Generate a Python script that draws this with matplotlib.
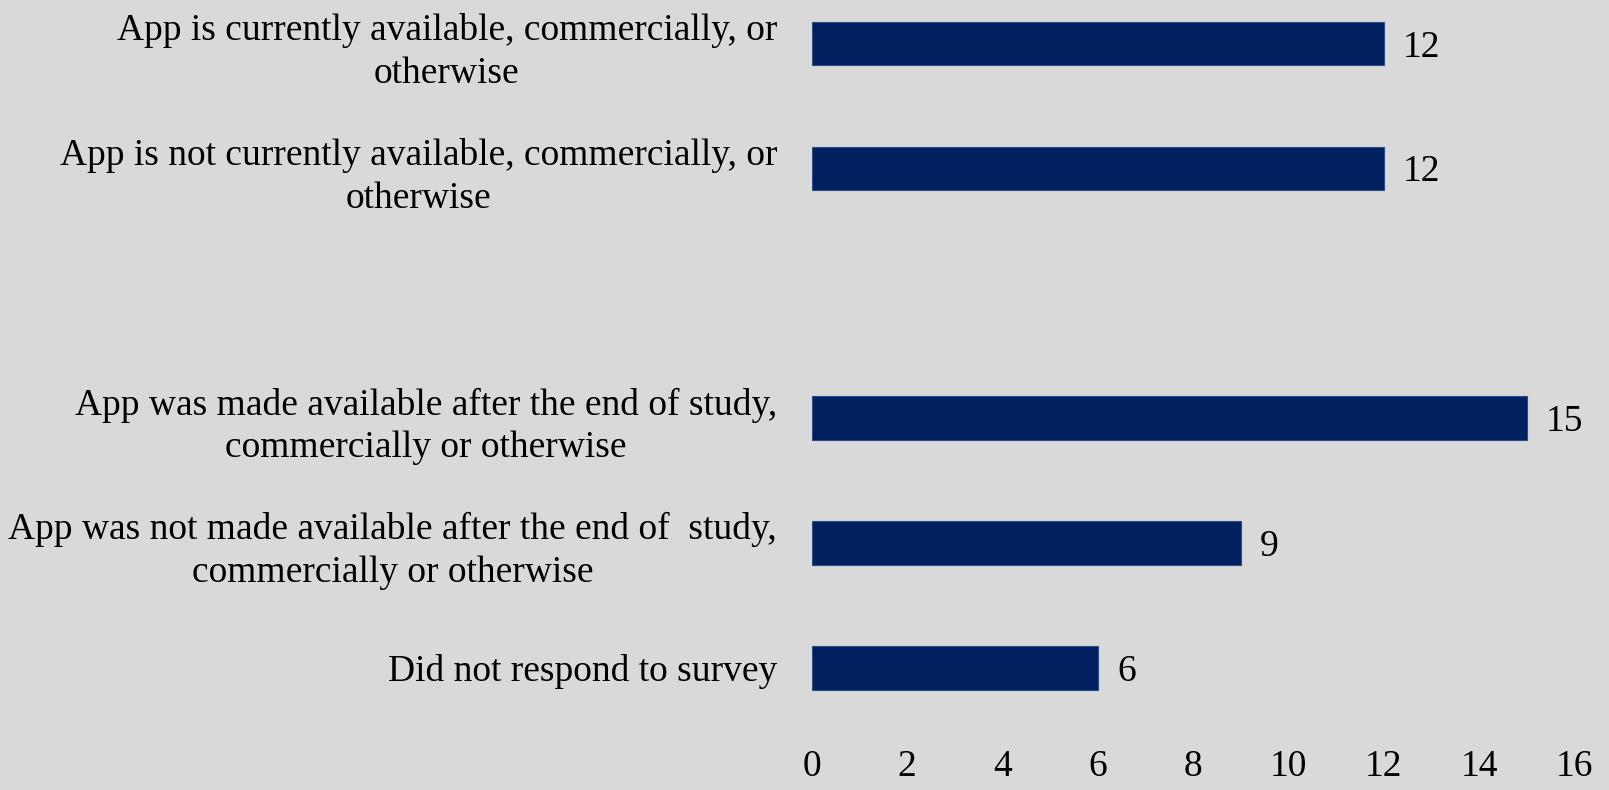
import matplotlib.pyplot as plt

# survey outcome categories; the blank entry leaves a gap between the two groups
categories = [
    "App is currently available, commercially, or\notherwise",
    "App is not currently available, commercially, or\notherwise",
    "",
    "App was made available after the end of study,\ncommercially or otherwise",
    "App was not made available after the end of  study,\ncommercially or otherwise",
    "Did not respond to survey",
]
counts = [12, 12, None, 15, 9, 6]
x_ticks = [0, 2, 4, 6, 8, 10, 12, 14, 16]

bg = "#d9d9d9"
bar_color = "#002060"
fs = 27

plt.rcParams["font.family"] = ["Liberation Serif", "DejaVu Serif"]

fig = plt.figure(figsize=(16.09, 7.90), dpi=100, facecolor=bg)
ax = fig.add_axes([0.5045, 0.0755, 0.4742, 0.9245])
ax.set_facecolor(bg)

for i, (cat, val) in enumerate(zip(categories, counts)):
    if val is None:
        continue
    ax.barh(i, val, height=0.35, color=bar_color, edgecolor="#2c4a86", linewidth=0.8)
    ax.text(val + 0.4, i + 0.03, str(val), va="center", ha="left", fontsize=fs)

ax.set_xlim(0, 16)
ax.set_ylim(len(categories) - 0.5, -0.349)
ax.set_xticks(x_ticks)
ax.set_xticklabels([str(t) for t in x_ticks], fontsize=fs)
ax.set_yticks(range(len(categories)))
ax.set_yticklabels(categories, fontsize=fs, multialignment="center", linespacing=1.32)

ax.tick_params(axis="x", length=0, pad=14)
ax.tick_params(axis="y", length=0, pad=25)
for side in ["top", "right", "bottom", "left"]:
    ax.spines[side].set_visible(False)

fig.savefig("out.png", dpi=100, facecolor=bg)
